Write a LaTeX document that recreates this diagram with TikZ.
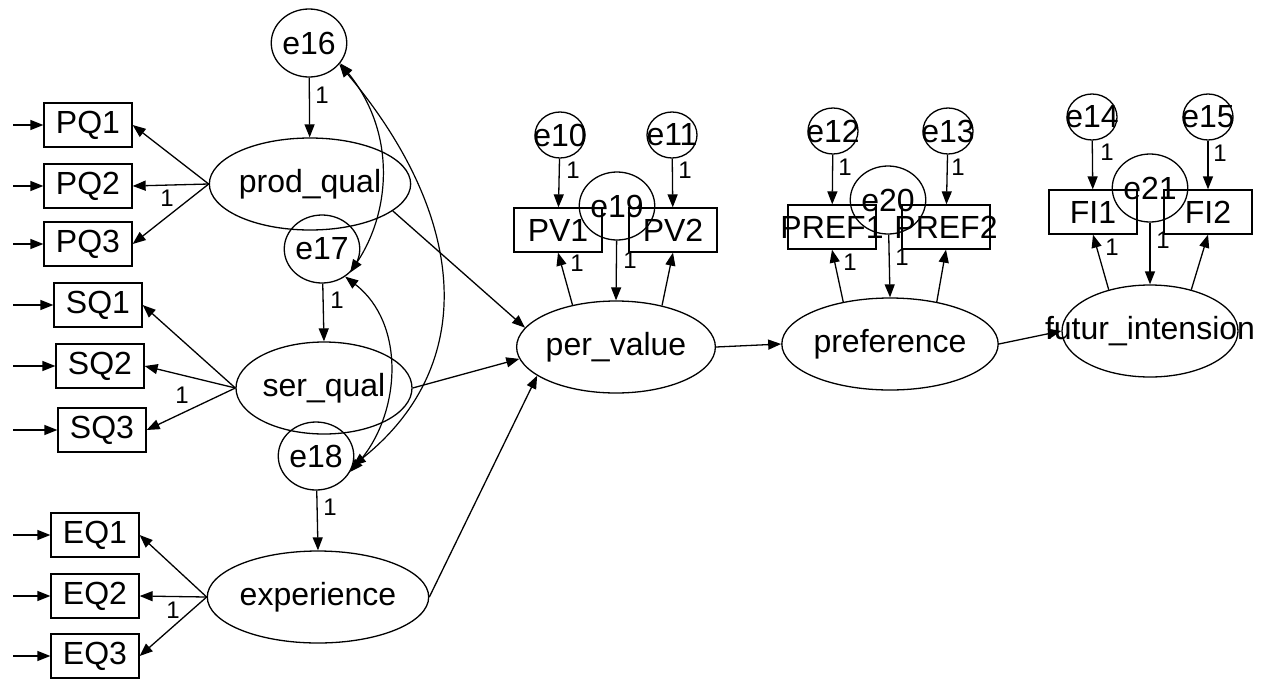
\documentclass[tikz,border=0pt]{standalone}
\usepackage{fontspec}
\setmainfont{Liberation Sans}
\usetikzlibrary{shapes.geometric,arrows.meta}

\newcommand{\nw}[1]{\makebox[0pt]{#1}}

\begin{document}
\begin{tikzpicture}[x=1pt,y=-1pt]
  \tikzstyle{obs}=[draw, rectangle, line width=1.3pt, minimum width=88pt, minimum height=44pt, inner sep=0pt, font=\fontsize{32}{32}\selectfont]
  \tikzstyle{lat}=[draw, ellipse, line width=1.3pt, minimum width=176pt, minimum height=92pt, inner sep=0pt, font=\fontsize{32}{32}\selectfont]
  \tikzstyle{err}=[draw, ellipse, line width=1.3pt, minimum width=56pt, minimum height=68pt, inner sep=0pt, font=\fontsize{32}{32}\selectfont]
  \tikzstyle{errs}=[err, minimum width=50pt, minimum height=46pt]
  \tikzstyle{reg}=[-{Triangle[length=13pt,width=10pt]}, line width=1.3pt]
  \tikzstyle{cov}=[{Triangle[length=13pt,width=10pt]}-{Triangle[length=13pt,width=10pt]}, line width=1.2pt]
  \tikzstyle{wt}=[inner sep=0pt, font=\fontsize{24}{24}\selectfont]

    \useasboundingbox (0,0) rectangle (1273,683);
    \coordinate (lft) at (13,0);

    % product, service and experience blocks
    \node[err] (e16) at (309,43) {e16};
    \node[lat] (pl) at (310,184) {prod\_qual};
    \node[obs] (pq1) at (88,125) {PQ1};
    \node[obs] (pq2) at (88,186) {PQ2};
    \node[obs] (pq3) at (88,244) {PQ3};

    \node[err] (e17) at (322,249) {e17};
    \node[lat] (sl) at (324,388) {ser\_qual};
    \node[obs] (sq1) at (98,305) {SQ1};
    \node[obs] (sq2) at (100,366) {SQ2};
    \node[obs] (sq3) at (102,430) {SQ3};

    \node[err] (e18) at (316,456) {e18};
    \node[lat] (xp) at (318,597) {experience};
    \node[obs] (eq1) at (95,535) {EQ1};
    \node[obs] (eq2) at (95,596) {EQ2};
    \node[obs] (eq3) at (95,656) {EQ3};

    % per_value, preference, futur_intension
    \node[lat] (pv) at (616,347) {per\_value};
    \node[obs] (pv1) at (558,230) {PV1};
    \node[obs] (pv2) at (673,230) {PV2};
    \node[errs] (e10) at (560,135) {\nw{e10}};
    \node[errs] (e11) at (672,135) {\nw{e11}};
    \node[err] (e19) at (617,206) {e19};

    \node[lat] (pf) at (890,344) {preference};
    \node[obs] (pf1) at (832,227) {\nw{PREF1}};
    \node[obs] (pf2) at (946,227) {\nw{PREF2}};
    \node[errs] (e12) at (833,131) {\nw{e12}};
    \node[errs] (e13) at (948,131) {\nw{e13}};
    \node[err] (e20) at (888,200) {e20};

    \node[lat] (fi) at (1150,331) {\nw{futur\_intension}};
    \node[obs] (fi1) at (1093,212) {FI1};
    \node[obs] (fi2) at (1208,212) {FI2};
    \node[errs] (e14) at (1092,117) {\nw{e14}};
    \node[errs] (e15) at (1208,117) {\nw{e15}};
    \node[err] (e21) at (1150,188) {e21};

    \foreach \b in {pq1,pq2,pq3,sq1,sq2,sq3,eq1,eq2,eq3}
      \draw[reg] (\b.west -| lft) -- (\b.west);
    \foreach \b in {pq1,pq2,pq3}
      \draw[reg] (pl.west) -- (\b.east);
    \foreach \b in {sq1,sq2,sq3}
      \draw[reg] (sl.west) -- (\b.east);
    \foreach \b in {eq1,eq2,eq3}
      \draw[reg] (xp.west) -- (\b.east);

    \draw[reg] (e16) -- (pl);
    \draw[reg] (e17) -- (sl.north);
    \draw[reg] (e18) -- (xp.north);
    \draw[cov] (e16.-33) .. controls +(57,70) and +(40,-60) .. (e17.-40);
    \draw[cov] (e16.-35) .. controls +(130,155) and +(125,-100) .. (e18.-15);
    \draw[cov] (e17.-50) .. controls +(61,47) and +(51,-58) .. (e18.-25);

    \draw[reg] (pl.-18) -- (pv.168);
    \draw[reg] (sl.east) -- (pv.187);
    \draw[reg] (xp.east) -- (pv.200);
    \draw[reg] (pv.east) -- (pf.west);
    \draw[reg] (pf.east) -- (fi.west);

    \draw[reg] (e10) -- (pv1);
    \draw[reg] (e11) -- (pv2);
    \draw[reg] (e19) -- (pv.north);
    \draw[reg] (pv.136) -- (pv1.south);
    \draw[reg] (pv.42) -- (pv2.south);

    \draw[reg] (e12) -- (pf1);
    \draw[reg] (e13) -- (pf2);
    \draw[reg] (e20) -- (pf.north);
    \draw[reg] (pf.138) -- (pf1.south);
    \draw[reg] (pf.42) -- (pf2.south);

    \draw[reg] (e14) -- (fi1);
    \draw[reg] (e15) -- (fi2);
    \draw[reg] (e21) -- (fi.north);
    \draw[reg] (fi.135) -- (fi1.south);
    \draw[reg] (fi.45) -- (fi2.south);

    % fixed weights
    \foreach \x/\y [count=\i] in {322/95, 167/198, 337/300, 182/395, 330/507, 173/610,
        573/170, 685/170, 577/263, 630/260, 845/167, 958/167, 850/262, 902/257,
        1107/152, 1220/153, 1112/247, 1163/240}
      \node[wt] (w\i) at (\x,\y) {1};

\end{tikzpicture}
\end{document}
